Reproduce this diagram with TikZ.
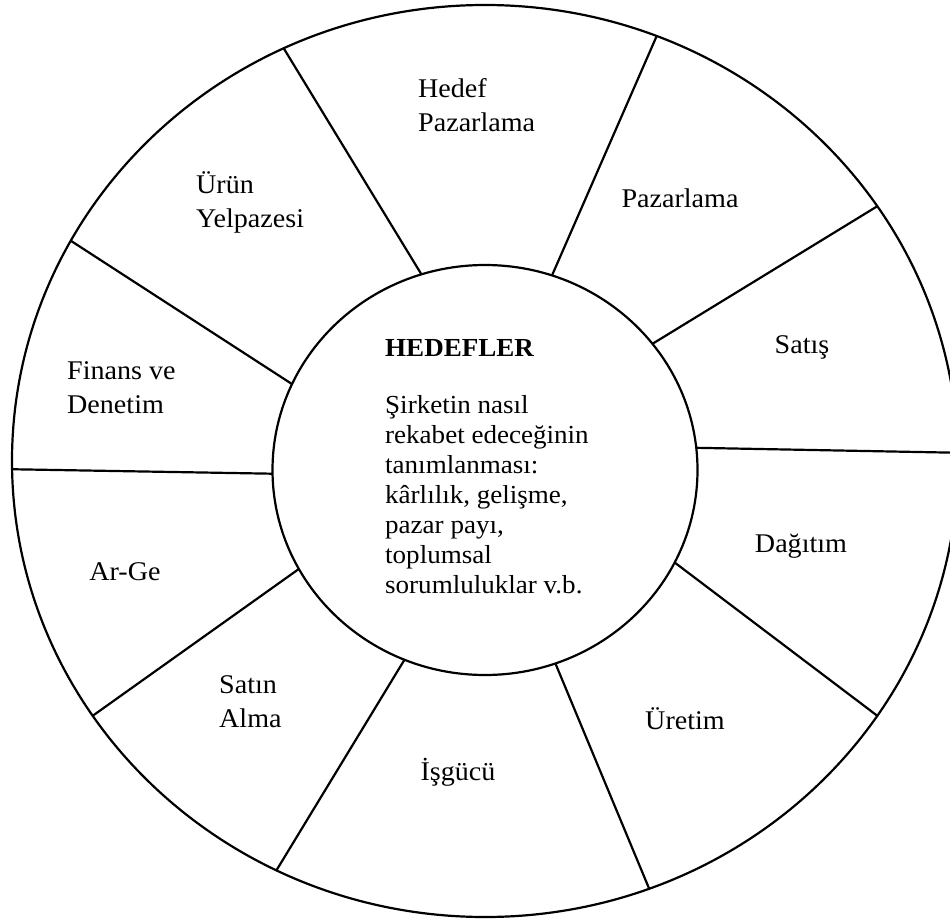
\documentclass[tikz,border=0pt]{standalone}
\usepackage{fontspec}
\setmainfont{Liberation Serif}[FakeStretch=1.04]
\usetikzlibrary{shapes.geometric}
\begin{document}
\begin{tikzpicture}[x=1pt, y=-1pt,
  ring/.style={draw, ellipse, line width=2.2pt, inner sep=0pt, outer sep=0pt},
  spoke/.style={line width=2.2pt},
  seglabel/.style={font=\fontsize{27}{34}\selectfont, align=left, inner sep=0pt},
  hubtext/.style={font=\fontsize{26}{30}\selectfont, inner sep=0pt, anchor=base west}]
\useasboundingbox (0,0) rectangle (950,920);
\clip (0,0) rectangle (950,920);

% outer wheel and the central hub
\node[ring, minimum width=946pt, minimum height=912pt] (rim) at (485,461) {};
\node[ring, minimum width=425pt, minimum height=410pt] (hub) at (485,470) {};

% twelve spokes from the hub to the rim
\foreach \n/\a/\b in {1/108.5/116.5, 2/71.5/68.3, 3/37.5/33.6, 4/6.0/1.8,
                      5/-26.7/-33.3, 6/-70.6/-69.3, 7/-113.5/-117.0,
                      8/-152.2/-147.4, 9/181.0/181.9, 10/156.3/152.2}
  \draw[spoke] (hub.\a) -- (rim.\b);

% segment labels
\node[seglabel, anchor=west] (hedef)  at (418,105) {Hedef\\Pazarlama};
\node[seglabel, anchor=west] (urun)   at (196,202) {Ürün\\Yelpazesi};
\node[seglabel] (pazar)  at (680,198) {Pazarlama};
\node[seglabel] (satis)  at (802,347) {Satış};
\node[seglabel, anchor=west] (finans) at (67,388) {Finans ve\\Denetim};
\node[seglabel] (arge)   at (125,572) {Ar-Ge};
\node[seglabel] (dagit)  at (801,546) {Dağıtım};
\node[seglabel, anchor=west] (satin)  at (219,702) {Satın\\Alma};
\node[seglabel] (uretim) at (685,719) {Üretim};
\node[seglabel] (isgucu) at (458,772) {İşgücü};

% hub text
\node[hubtext, font=\fontsize{26}{30}\selectfont\bfseries] (title) at (385,356) {HEDEFLER};
\foreach \t [count=\i from 0] in {Şirketin nasıl, rekabet edeceğinin,
    tanımlanması:, {kârlılık, gelişme,}, {pazar payı,}, toplumsal,
    sorumluluklar v.b.}
  \node[hubtext] (line\i) at (385,{413+30*\i}) {\t};
\end{tikzpicture}
\end{document}
